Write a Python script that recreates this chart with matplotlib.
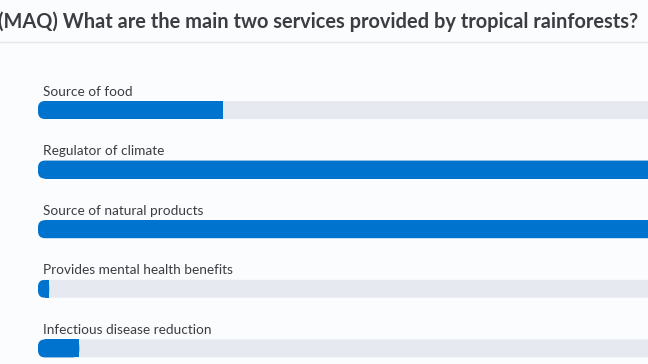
from matplotlib import pyplot as plt
from matplotlib.patches import FancyBboxPatch
import numpy as np

# poll results (percent of respondents, track = 100)
options = ["Source of food", "Regulator of climate", "Source of natural products",
           "Provides mental health benefits", "Infectious disease reduction"]
percent = [26.4, 94.0, 91.0, 1.6, 5.9]
question = "(MAQ) What are the main two services provided by tropical rainforests?"

W, H = 648, 364
px_x = 7.0      # pixels per percent
px_y = 59.6     # pixels per row
x0_px = 38      # left edge of bars
row0_px = 110   # centre of first bar

bg = "#fbfcfd"
track_col = "#e6eaf0"
fill_col = "#0073cf"

fig = plt.figure(figsize=(W / 100, H / 100), dpi=100, facecolor=bg)
ax = fig.add_axes([0, 0, 1, 1])
ax.set_facecolor(bg)
ax.set_xlim(-x0_px / px_x, (W - x0_px) / px_x)
ax.set_ylim((H - row0_px) / px_y, -row0_px / px_y)
ax.axis("off")

bar_h = 18 / px_y
r = 7 / px_x
aspect = px_x / px_y

for i, (name, val) in enumerate(zip(options, percent)):
    y = i
    track = FancyBboxPatch((0, y - bar_h / 2), 100, bar_h,
                           boxstyle=f"round,pad=0,rounding_size={r}",
                           mutation_aspect=aspect, fc=track_col, ec="none")
    ax.add_patch(track)
    fill = FancyBboxPatch((0, y - bar_h / 2), val, bar_h,
                          boxstyle=f"round,pad=0,rounding_size={min(r, val)}",
                          mutation_aspect=aspect, fc=fill_col, ec="none")
    ax.add_patch(fill)
    if val > r:
        ax.barh(y, val - r, left=r, height=bar_h, color=fill_col, linewidth=0)
    ax.text(5 / px_x, y - 18.5 / px_y, name, fontsize=9.8, family="Lato",
            color="#3a3d42", va="center", ha="left")

fig.text(-2 / W, 1 - 22 / H, question, fontsize=14.4, family="Lato",
         fontweight="bold", color="#3a3d42", va="center", ha="left")
fig.add_artist(plt.Line2D([0, 1], [1 - 42 / H, 1 - 42 / H], color="#e3e6ea", lw=1))

fig.savefig("out.png", dpi=100, facecolor=bg)
